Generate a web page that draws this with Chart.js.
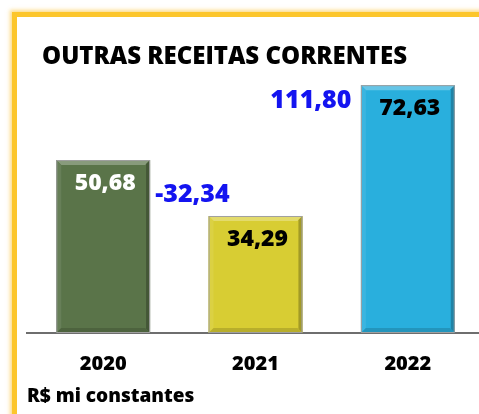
<!DOCTYPE html>
<html>
<head>
<meta charset="utf-8">
<script src="https://cdn.jsdelivr.net/npm/chart.js@4.4.1/dist/chart.umd.min.js"></script>
<style>
  html, body { margin: 0; padding: 0; background: #fff; overflow: hidden; }
  #caixa { position: relative; width: 479px; height: 414px; overflow: hidden; font-family: "Open Sans", Lato, sans-serif; }
  #moldura {
    position: absolute; left: 12px; top: 12px; width: 520px; height: 460px;
    border-left: 5px solid #fcc62c; border-top: 5px solid #fcc62c;
    box-shadow: -2px -2px 4px rgba(250, 190, 40, 0.55);
  }
  #grafico { position: absolute; left: 0; top: 0; }
  #titulo { position: absolute; left: 42px; top: 43px; font-size: 24px; line-height: 1; font-weight: 800; color: #000; white-space: nowrap; }
  #unidade { position: absolute; left: 27px; top: 386px; font-size: 19px; line-height: 1; font-weight: 800; color: #000; white-space: nowrap; }
</style>
</head>
<body>
<div id="caixa">
  <div id="moldura"></div>
  <canvas id="grafico" width="490" height="414"></canvas>
  <div id="titulo">OUTRAS RECEITAS CORRENTES</div>
  <div id="unidade">R$ mi constantes</div>
</div>
<script>
const anos = ['2020', '2021', '2022'];
const valores = [50.68, 34.29, 72.63];
const variacao = [null, -32.34, 111.80];   // % sobre o ano anterior
const cores = ['#5a7449', '#d8cd33', '#29afdd'];
const corRotulo = ['#ffffff', '#000000', '#000000'];

// deslocamento dos rótulos de variação (em px) a partir do topo/centro da barra
const posVariacao = [null, { dx: -63, ref: 0, dy: 35 }, { dx: -97, ref: 2, dy: 16 }];

const fonte = '"Open Sans"';
const fmt = v => v.toFixed(2).replace('.', ',');

function mistura(hex, alvo, t) {
  const n = parseInt(hex.slice(1), 16);
  const r = (n >> 16) & 255, g = (n >> 8) & 255, b = n & 255;
  const m = c => Math.round(c + (alvo - c) * t);
  return `rgb(${m(r)},${m(g)},${m(b)})`;
}

// efeito de bisel nas barras + rótulos
const bisel = {
  id: 'bisel',
  afterDatasetsDraw(chart) {
    const ctx = chart.ctx;
    const meta = chart.getDatasetMeta(0);
    const b = 5;
    meta.data.forEach((bar, i) => {
      const l = bar.x - bar.width / 2, r = bar.x + bar.width / 2;
      const t = bar.y, bt = bar.base;
      const cor = cores[i];
      const face = (pts, fill) => {
        ctx.beginPath();
        ctx.moveTo(pts[0][0], pts[0][1]);
        pts.slice(1).forEach(p => ctx.lineTo(p[0], p[1]));
        ctx.closePath();
        ctx.fillStyle = fill;
        ctx.fill();
      };
      ctx.save();
      face([[l, t], [r, t], [r - b, t + b], [l + b, t + b]], mistura(cor, 255, 0.28));
      face([[l, t], [l + b, t + b], [l + b, bt - b], [l, bt]], mistura(cor, 255, 0.08));
      face([[r, t], [r, bt], [r - 4, bt - 4], [r - 4, t + 4]], mistura(cor, 0, 0.25));
      face([[l, bt], [l + b, bt - b], [r - b, bt - b], [r, bt]], mistura(cor, 0, 0.15));
      ctx.strokeStyle = '#a0a0a0';
      ctx.lineWidth = 1;
      ctx.strokeRect(l + 0.5, t + 0.5, bar.width - 1, bt - t - 1);

      ctx.font = `800 23px ${fonte}`;
      ctx.textAlign = 'center';
      ctx.textBaseline = 'middle';
      ctx.fillStyle = corRotulo[i];
      ctx.fillText(fmt(valores[i]), bar.x + 2, t + 23);
      ctx.restore();
    });

    variacao.forEach((v, i) => {
      if (v === null) return;
      const p = posVariacao[i];
      const x = meta.data[i].x + p.dx;
      const y = meta.data[p.ref].y + p.dy;
      ctx.save();
      ctx.font = `800 25px ${fonte}`;
      ctx.textAlign = 'center';
      ctx.textBaseline = 'middle';
      ctx.fillStyle = '#1414f0';
      ctx.fillText(fmt(v), x, y);
      ctx.restore();
    });
  }
};

new Chart(document.getElementById('grafico'), {
  type: 'bar',
  data: {
    labels: anos,
    datasets: [{
      data: valores,
      backgroundColor: cores,
      borderWidth: 0,
      barPercentage: 0.616,
      categoryPercentage: 1
    }]
  },
  options: {
    responsive: false,
    animation: false,
    layout: { padding: { left: 27, right: 6, top: 60, bottom: 36 } },
    plugins: { legend: { display: false }, tooltip: { enabled: false } },
    scales: {
      y: { display: false, min: 0, max: 80 },
      x: {
        grid: { display: false },
        border: { display: true, color: '#6e6e6e', width: 2 },
        ticks: { color: '#000', font: { family: 'Open Sans', weight: 800, size: 20 }, padding: 11 },
        afterFit: s => { s.height = 45; }
      }
    }
  },
  plugins: [bisel]
});
</script>
</body>
</html>
